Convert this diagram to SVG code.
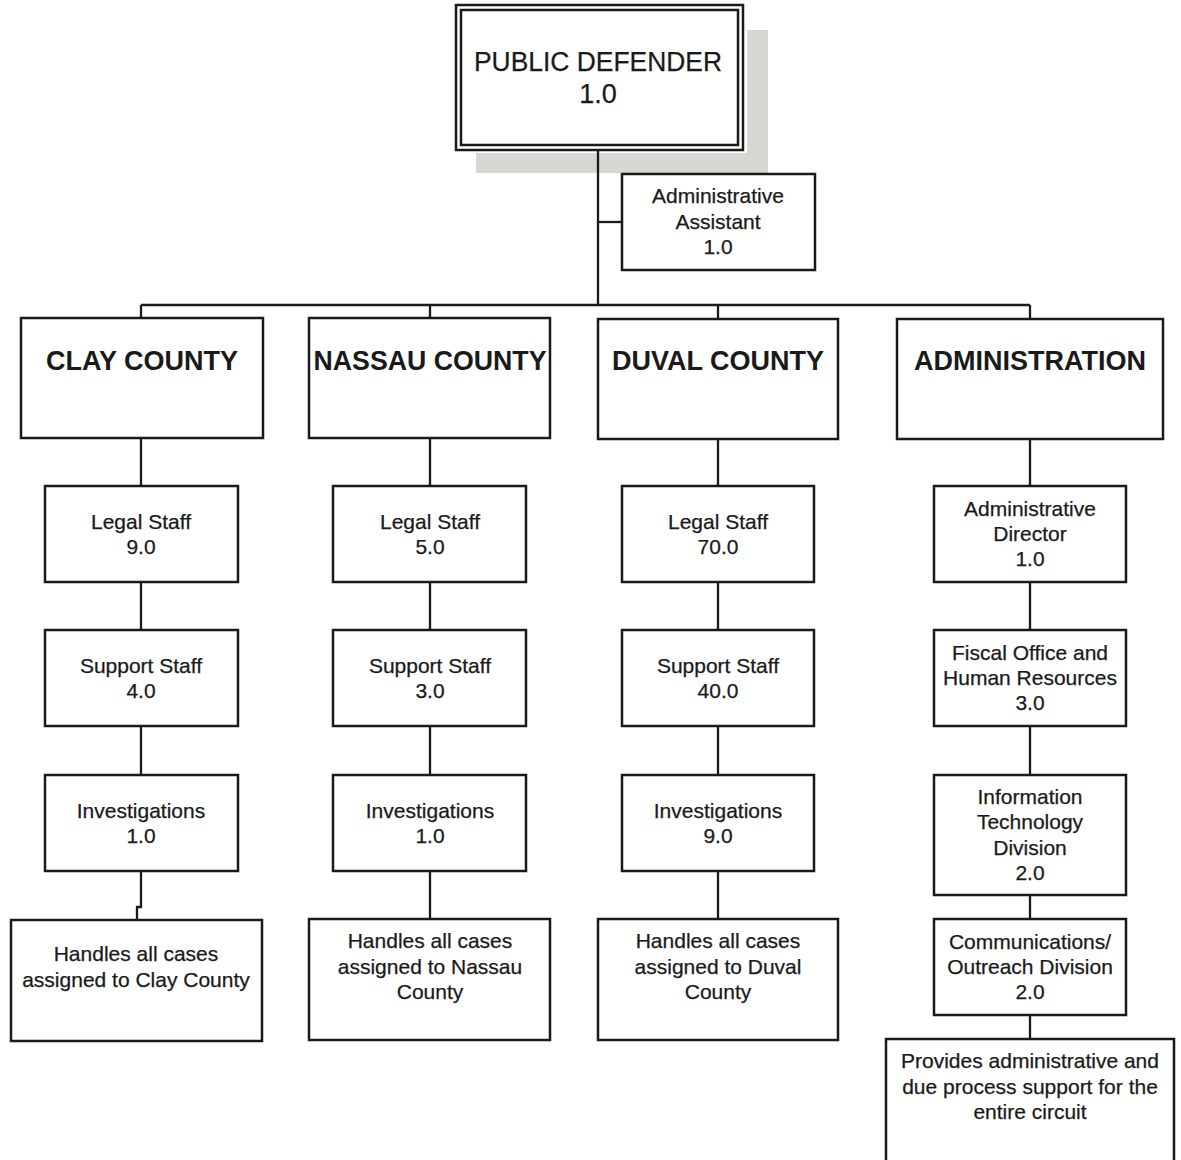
<svg xmlns="http://www.w3.org/2000/svg" width="1181" height="1160" viewBox="0 0 1181 1160">
  <style>
    .box { fill: #ffffff; stroke: #1a1a1a; stroke-width: 2.5; }
    .wire { fill: none; stroke: #1a1a1a; stroke-width: 2.3; }
    .t { font-family: "Liberation Sans", Arial, sans-serif; font-size: 21px; fill: #1a1a1a; stroke: #1a1a1a; stroke-width: 0.25; text-anchor: middle; }
    .head { font-family: "Liberation Sans", Arial, sans-serif; font-size: 27px; font-weight: bold; fill: #1a1a1a; text-anchor: middle; }
    .top { font-family: "Liberation Sans", Arial, sans-serif; font-size: 27px; fill: #1a1a1a; stroke: #1a1a1a; stroke-width: 0.25; text-anchor: middle; }
  </style>
  <rect width="1181" height="1160" fill="#ffffff"/>

  <!-- drop shadow behind the top box -->
  <path d="M747 30 H768 V173 H476 V153 H747 Z" fill="#d6d6d2"/>

  <!-- connectors -->
  <g id="connectors" class="wire">
    <path d="M598 150 V305"/>
    <path d="M598 222 H622"/>
    <path d="M141 305 H1030"/>
    <path d="M141 305 V318"/>
    <path d="M430 305 V318"/>
    <path d="M718 305 V318"/>
    <path d="M1030 305 V319"/>
    <!-- Clay column -->
    <path d="M141 438 V486"/>
    <path d="M141 582 V630"/>
    <path d="M141 726 V775"/>
    <path d="M141 871 V907 H137 V920"/>
    <!-- Nassau column -->
    <path d="M430 438 V486"/>
    <path d="M430 582 V630"/>
    <path d="M430 726 V775"/>
    <path d="M430 871 V919"/>
    <!-- Duval column -->
    <path d="M718 439 V486"/>
    <path d="M718 582 V630"/>
    <path d="M718 726 V775"/>
    <path d="M718 871 V919"/>
    <!-- Administration column -->
    <path d="M1030 439 V486"/>
    <path d="M1030 582 V630"/>
    <path d="M1030 726 V775"/>
    <path d="M1030 895 V919"/>
    <path d="M1030 1015 V1039"/>
  </g>

  <g id="public-defender">
    <rect class="box" x="456" y="5" width="287" height="145"/>
    <rect class="box" x="461" y="10" width="277" height="135"/>
    <text class="top" x="598" y="71" textLength="248" lengthAdjust="spacingAndGlyphs">PUBLIC DEFENDER</text>
    <text class="top" x="598" y="103">1.0</text>
  </g>

  <g id="admin-assistant">
    <rect class="box" x="622" y="174" width="193" height="96"/>
    <text class="t" x="718" y="203">Administrative</text>
    <text class="t" x="718" y="229">Assistant</text>
    <text class="t" x="718" y="254">1.0</text>
  </g>

  <g id="clay-county">
    <rect class="box" x="21" y="318" width="242" height="120"/>
    <text class="head" x="142" y="370">CLAY COUNTY</text>
  </g>
  <g id="nassau-county">
    <rect class="box" x="309" y="318" width="241" height="120"/>
    <text class="head" x="430" y="370" textLength="233" lengthAdjust="spacingAndGlyphs">NASSAU COUNTY</text>
  </g>
  <g id="duval-county">
    <rect class="box" x="598" y="319" width="240" height="120"/>
    <text class="head" x="718" y="370">DUVAL COUNTY</text>
  </g>
  <g id="administration">
    <rect class="box" x="897" y="319" width="266" height="120"/>
    <text class="head" x="1030" y="370">ADMINISTRATION</text>
  </g>

  <!-- Clay County units -->
  <g id="clay-legal">
    <rect class="box" x="45" y="486" width="193" height="96"/>
    <text class="t" x="141" y="529">Legal Staff</text>
    <text class="t" x="141" y="554">9.0</text>
  </g>
  <g id="clay-support">
    <rect class="box" x="45" y="630" width="193" height="96"/>
    <text class="t" x="141" y="673">Support Staff</text>
    <text class="t" x="141" y="698">4.0</text>
  </g>
  <g id="clay-investigations">
    <rect class="box" x="45" y="775" width="193" height="96"/>
    <text class="t" x="141" y="818">Investigations</text>
    <text class="t" x="141" y="843">1.0</text>
  </g>
  <g id="clay-scope">
    <rect class="box" x="11" y="920" width="251" height="121"/>
    <text class="t" x="136" y="961">Handles all cases</text>
    <text class="t" x="136" y="987">assigned to Clay County</text>
  </g>

  <!-- Nassau County units -->
  <g id="nassau-legal">
    <rect class="box" x="333" y="486" width="193" height="96"/>
    <text class="t" x="430" y="529">Legal Staff</text>
    <text class="t" x="430" y="554">5.0</text>
  </g>
  <g id="nassau-support">
    <rect class="box" x="333" y="630" width="193" height="96"/>
    <text class="t" x="430" y="673">Support Staff</text>
    <text class="t" x="430" y="698">3.0</text>
  </g>
  <g id="nassau-investigations">
    <rect class="box" x="333" y="775" width="193" height="96"/>
    <text class="t" x="430" y="818">Investigations</text>
    <text class="t" x="430" y="843">1.0</text>
  </g>
  <g id="nassau-scope">
    <rect class="box" x="309" y="919" width="241" height="121"/>
    <text class="t" x="430" y="948">Handles all cases</text>
    <text class="t" x="430" y="974">assigned to Nassau</text>
    <text class="t" x="430" y="999">County</text>
  </g>

  <!-- Duval County units -->
  <g id="duval-legal">
    <rect class="box" x="622" y="486" width="192" height="96"/>
    <text class="t" x="718" y="529">Legal Staff</text>
    <text class="t" x="718" y="554">70.0</text>
  </g>
  <g id="duval-support">
    <rect class="box" x="622" y="630" width="192" height="96"/>
    <text class="t" x="718" y="673">Support Staff</text>
    <text class="t" x="718" y="698">40.0</text>
  </g>
  <g id="duval-investigations">
    <rect class="box" x="622" y="775" width="192" height="96"/>
    <text class="t" x="718" y="818">Investigations</text>
    <text class="t" x="718" y="843">9.0</text>
  </g>
  <g id="duval-scope">
    <rect class="box" x="598" y="919" width="240" height="121"/>
    <text class="t" x="718" y="948">Handles all cases</text>
    <text class="t" x="718" y="974">assigned to Duval</text>
    <text class="t" x="718" y="999">County</text>
  </g>

  <!-- Administration units -->
  <g id="admin-director">
    <rect class="box" x="934" y="486" width="192" height="96"/>
    <text class="t" x="1030" y="516">Administrative</text>
    <text class="t" x="1030" y="541">Director</text>
    <text class="t" x="1030" y="566">1.0</text>
  </g>
  <g id="fiscal-hr">
    <rect class="box" x="934" y="630" width="192" height="96"/>
    <text class="t" x="1030" y="660">Fiscal Office and</text>
    <text class="t" x="1030" y="685">Human Resources</text>
    <text class="t" x="1030" y="710">3.0</text>
  </g>
  <g id="it-division">
    <rect class="box" x="934" y="775" width="192" height="120"/>
    <text class="t" x="1030" y="804">Information</text>
    <text class="t" x="1030" y="829">Technology</text>
    <text class="t" x="1030" y="855">Division</text>
    <text class="t" x="1030" y="880">2.0</text>
  </g>
  <g id="communications">
    <rect class="box" x="934" y="919" width="192" height="96"/>
    <text class="t" x="1030" y="949">Communications/</text>
    <text class="t" x="1030" y="974">Outreach Division</text>
    <text class="t" x="1030" y="999">2.0</text>
  </g>
  <g id="admin-scope">
    <rect class="box" x="886" y="1039" width="288" height="125"/>
    <text class="t" x="1030" y="1068">Provides administrative and</text>
    <text class="t" x="1030" y="1094">due process support for the</text>
    <text class="t" x="1030" y="1119">entire circuit</text>
  </g>
</svg>
